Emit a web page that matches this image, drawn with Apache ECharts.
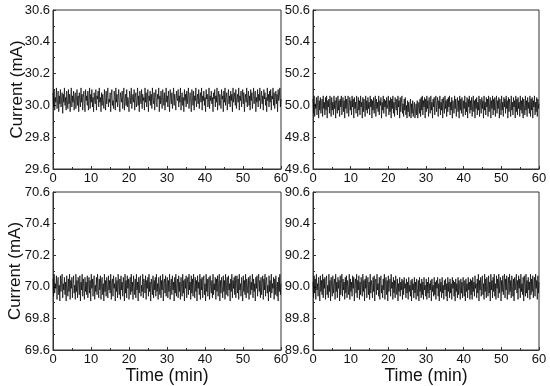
<!DOCTYPE html>
<html><head><meta charset="utf-8">
<script src="https://cdn.jsdelivr.net/npm/echarts@6/dist/echarts.min.js"></script>
<style>html,body{margin:0;padding:0;background:#fff}#c{width:550px;height:386px}</style>
</head><body><div id="c"></div>
<script>
const xTicks = [0,10,20,30,40,50,60];
const yRanges = [[29.6,30.6],[49.6,50.6],[69.6,70.6],[89.6,90.6]];
const yName = 'Current (mA)';
const xName = 'Time (min)';
const current30 = [30.08,29.99,30.10,29.97,30.05,30.02,30.11,29.98,30.03,30.09,29.96,30.06,30.01,30.10,29.99,30.04,30.08,29.95,30.07,30.02,
30.11,30.00,30.05,29.97,30.09,30.03,29.98,30.10,30.01,30.07,29.96,30.04,30.11,29.99,30.06,30.02,30.09,29.97,30.05,30.08,
29.98,30.03,30.10,30.00,30.06,29.96,30.08,30.04,29.99,30.11,30.02,30.07,29.97,30.05,30.09,30.01,29.96,30.10,30.03,30.06,
30.00,30.09,29.97,30.04,30.11,29.98,30.07,30.02,30.10,29.99,30.05,29.96,30.08,30.03,30.01,30.10,29.97,30.06,30.04,30.09,
29.99,30.11,30.02,30.05,29.96,30.08,30.00,30.07,30.03,29.98,30.10,30.04,29.97,30.09,30.01,30.06,30.11,29.99,30.04,30.02,
30.08,29.96,30.06,30.10,30.00,30.03,29.98,30.09,30.05,29.97,30.11,30.02,30.07,29.99,30.04,30.10,30.01,29.96,30.08,30.05,
30.02,30.09,29.98,30.06,30.11,29.97,30.04,30.07,30.00,30.10,29.99,30.05,30.03,29.96,30.09,30.06,30.01,30.11,29.98,30.04,
30.07,30.02,30.10,29.97,30.05,30.08,29.99,30.03,30.11,30.00,30.06,29.96,30.09,30.04,30.01,30.10,29.98,30.07,30.03,30.05,
29.97,30.11,30.02,30.08,29.99,30.04,30.10,29.96,30.06,30.03,30.09,30.00,30.07,29.98,30.11,30.04,30.01,30.08,29.97,30.05,
30.10,30.02,29.99,30.07,30.04,30.11,29.96,30.06,30.01,30.09,30.03,29.98,30.10,30.05,30.00,30.08,29.97,30.04,30.11,30.02,
30.06,29.99,30.09,30.03,29.96,30.10,30.05,30.01,30.08,29.98,30.04,30.11,30.00,30.07,30.02,29.97,30.09,30.05,30.03,30.10,
29.99,30.06,30.02,30.11,29.97,30.04,30.08,30.00,30.05,29.96,30.10,30.03,30.07,29.99,30.09,30.01,30.06,30.11,29.98,30.04,
30.08,30.02,29.96,30.10,30.05,30.00,30.09,29.97,30.06,30.03,30.11,29.99,30.04,30.07,30.01,30.10,29.98,30.05,30.08,30.02,
30.11,29.97,30.06,30.03,30.09,30.00,30.05,29.96,30.10,30.04,30.07,29.99,30.02,30.11,29.98,30.06,30.03,30.09,30.01,30.05,
29.96,30.08,30.04,30.10,29.99,30.06,30.02,30.11,29.97,30.05,30.09,30.00,30.07,30.03,29.98,30.10,30.04,30.06,29.96,30.09,
30.02,30.11,30.00,30.05,30.08,29.97,30.04,30.10,30.01,30.06,29.99,30.09,30.03,30.07,29.96,30.11,30.02,30.05,30.08,30.00,
30.10,29.98,30.04,30.07,30.02,30.11,29.97,30.06,30.03,30.09,29.99,30.05,30.10,30.01,30.08,29.96,30.04,30.07,30.02,30.11,
29.99,30.05,30.09,30.00,30.06,29.97,30.10,30.03,30.08,29.98,30.04,30.11,30.01,30.06,30.09,29.96,30.05,30.02,30.10,29.99,
30.07,30.03,30.11,29.98,30.05,30.09,30.01,30.06,29.97,30.10,30.04,30.08,30.00,30.05,29.96,30.11,30.03,30.07,29.99,30.09,
30.02,30.10,29.97,30.06,30.04,30.11,30.00,30.08,29.98,30.05,30.09,30.01,30.07,29.96,30.10,30.03,30.06,30.11,29.99,30.04];
const current50 = [50.04,49.95,50.06,49.93,50.01,49.98,50.05,49.94,50.02,50.06,49.92,50.03,49.97,50.05,49.95,50.00,50.04,49.93,50.06,49.98,
50.02,49.94,50.05,49.97,50.06,49.92,50.03,49.99,50.04,49.95,50.06,50.00,49.93,50.05,49.97,50.02,49.94,50.06,49.98,50.03,
49.92,50.05,50.00,49.95,50.06,49.97,50.03,49.93,50.04,49.99,50.06,49.94,50.01,50.05,49.96,50.03,49.92,50.06,49.98,50.04,
49.95,50.02,50.06,49.93,50.00,50.05,49.97,50.03,49.94,50.06,49.99,50.04,49.92,50.05,49.98,50.02,49.95,50.06,50.00,49.93,
50.05,49.97,50.03,49.94,50.06,49.99,50.02,49.92,50.05,49.96,50.04,50.00,49.93,50.06,49.97,50.03,49.95,50.05,49.98,50.02,
49.94,50.06,49.99,50.04,49.92,50.03,49.97,50.05,49.95,50.01,50.06,49.93,50.04,49.98,50.02,49.96,50.06,49.94,50.03,50.00,
50.05,49.92,50.02,49.97,50.06,49.95,50.04,49.99,50.03,49.93,50.05,49.98,50.01,50.06,49.94,50.03,49.96,50.05,49.92,50.04,
49.98,50.06,49.95,50.02,49.93,50.05,50.00,49.97,50.04,49.94,50.06,49.99,50.03,49.92,50.05,49.96,50.02,50.06,49.95,50.01,
49.93,50.04,49.97,50.05,49.94,50.00,49.92,50.03,49.96,50.02,49.93,49.99,50.04,49.92,50.01,49.95,50.03,49.93,49.98,50.02,
49.92,49.97,50.01,49.94,50.03,49.92,49.99,50.02,49.95,50.04,49.93,50.05,49.97,50.06,49.94,50.03,49.99,50.05,49.92,50.04,
49.96,50.06,49.98,50.03,49.93,50.05,50.00,49.95,50.06,49.97,50.02,49.92,50.04,49.99,50.05,49.94,50.03,50.06,49.96,50.01,
50.05,49.93,50.03,49.98,50.06,49.94,50.02,49.97,50.04,49.92,50.05,50.00,49.95,50.06,49.98,50.03,49.93,50.04,49.96,50.05,
49.99,50.06,49.94,50.02,49.97,50.05,49.92,50.03,50.00,49.95,50.06,49.98,50.04,49.93,50.01,50.05,49.96,50.03,49.92,50.06,
49.97,50.04,49.95,50.05,50.00,49.93,50.03,49.98,50.06,49.94,50.02,49.96,50.05,49.92,50.04,49.99,50.06,49.95,50.03,49.97,
50.05,49.93,50.01,50.06,49.96,50.03,49.92,50.04,49.98,50.05,49.94,50.02,49.97,50.06,49.93,50.04,50.00,49.95,50.05,49.98,
50.03,49.92,50.06,49.97,50.02,49.94,50.05,49.99,50.04,49.93,50.06,49.96,50.01,50.05,49.92,50.03,49.98,50.06,49.94,50.04,
49.97,50.05,49.93,50.02,50.06,49.95,50.03,49.98,50.05,49.92,50.04,50.00,49.94,50.06,49.97,50.02,49.93,50.05,49.99,50.04,
49.95,50.06,49.98,50.03,49.92,50.05,49.96,50.04,50.00,49.93,50.06,49.97,50.02,49.94,50.05,49.99,50.03,49.92,50.06,49.96,
50.04,49.94,50.05,49.98,50.02,49.93,50.06,49.97,50.03,49.95,50.05,49.92,50.04,50.00,49.94,50.06,49.97,50.03,49.93,50.05,
49.98,50.02,49.95,50.06,49.93,50.04,49.97,50.05,49.92,50.03,49.99,50.06,49.94,50.02,49.96,50.05,49.93,50.04,49.98,50.01];
const current70 = [70.05,69.94,70.08,69.96,70.02,69.99,70.07,69.92,70.03,70.06,69.95,70.01,69.91,70.07,69.97,70.04,70.08,69.93,70.02,69.98,
70.06,69.95,70.03,69.91,70.07,70.00,69.94,70.05,69.97,70.08,69.92,70.04,69.99,70.06,69.93,70.02,70.07,69.96,70.01,69.92,
70.08,69.97,70.04,69.93,70.06,70.01,69.95,70.07,69.91,70.03,69.98,70.08,69.94,70.05,70.00,69.92,70.06,69.97,70.03,69.95,
70.07,69.93,70.02,70.06,69.96,70.04,69.91,70.08,69.99,70.05,69.94,70.03,70.07,69.92,70.01,69.97,70.06,69.95,70.08,70.00,
69.93,70.05,69.98,70.07,69.92,70.03,70.06,69.95,70.02,69.91,70.08,69.97,70.04,69.94,70.06,70.01,69.93,70.07,69.98,70.04,
69.96,70.08,69.92,70.03,70.05,69.94,70.07,69.99,70.02,69.91,70.06,69.97,70.04,69.93,70.08,70.00,69.95,70.05,69.92,70.07,
69.98,70.03,69.94,70.06,70.01,69.91,70.08,69.96,70.04,69.93,70.07,69.99,70.05,69.92,70.02,70.06,69.95,70.08,69.97,70.03,
69.92,70.07,70.00,69.95,70.05,69.93,70.08,69.98,70.03,69.91,70.06,69.96,70.04,70.07,69.94,70.01,69.97,70.08,69.93,70.05,
70.02,69.96,70.07,69.92,70.04,69.99,70.06,69.94,70.08,69.97,70.03,69.91,70.05,70.01,69.95,70.07,69.93,70.04,69.98,70.06,
69.94,70.08,69.97,70.02,69.92,70.06,70.00,69.95,70.07,69.93,70.04,69.98,70.08,69.91,70.03,70.05,69.96,70.07,69.94,70.02,
70.06,69.93,70.04,69.97,70.08,69.92,70.01,70.05,69.95,70.07,69.98,70.03,69.91,70.06,69.96,70.08,69.94,70.02,70.05,69.93,
70.07,69.97,70.03,69.92,70.06,70.00,69.94,70.08,69.96,70.04,69.91,70.05,69.99,70.07,69.93,70.02,70.06,69.95,70.08,69.98,
70.03,69.92,70.07,69.96,70.05,69.94,70.08,70.01,69.93,70.06,69.97,70.04,69.91,70.07,69.99,70.03,69.95,70.08,69.92,70.05,
69.98,70.06,69.93,70.04,70.07,69.95,70.02,69.91,70.08,69.97,70.05,69.94,70.03,70.06,69.92,70.07,70.00,69.96,70.04,69.93,
70.08,69.95,70.02,69.98,70.06,69.92,70.05,69.97,70.07,69.94,70.03,70.08,69.91,70.04,69.96,70.06,70.01,69.93,70.07,69.97,
70.04,69.92,70.08,69.95,70.03,70.06,69.94,70.07,69.98,70.02,69.91,70.05,69.97,70.08,69.93,70.04,69.99,70.06,69.95,70.07,
69.93,70.03,70.07,69.96,70.05,69.92,70.08,69.98,70.02,69.94,70.06,70.00,69.91,70.07,69.97,70.04,69.95,70.08,69.93,70.05,
70.01,69.96,70.06,69.92,70.04,70.07,69.95,70.03,69.98,70.08,69.93,70.05,69.97,70.02,69.91,70.06,69.99,70.07,69.94,70.03,
70.08,69.97,70.04,69.93,70.06,69.95,70.02,70.07,69.92,70.05,69.98,70.08,69.94,70.03,70.06,69.96,70.01,69.91,70.07,69.97,
70.04,69.93,70.08,69.96,70.02,69.99,70.06,69.92,70.05,69.95,70.07,70.00,69.94,70.03,69.91,70.06,69.97,70.08,69.95,70.02];
const current90 = [90.03,89.93,90.07,89.96,90.05,89.92,90.08,89.98,90.02,89.94,90.06,90.00,89.91,90.07,89.97,90.04,89.95,90.08,89.93,90.05,
89.99,90.06,89.92,90.03,90.07,89.95,90.01,89.93,90.08,89.97,90.04,89.91,90.06,90.00,89.94,90.07,89.96,90.02,90.05,89.92,
90.08,89.97,90.03,89.93,90.06,89.99,90.04,89.91,90.07,89.95,90.02,90.08,89.94,90.05,89.98,90.03,89.92,90.06,89.96,90.07,
89.93,90.04,90.00,89.95,90.08,89.92,90.05,89.97,90.03,89.94,90.07,89.99,90.06,89.91,90.02,90.05,89.96,90.08,89.93,90.04,
89.98,90.07,89.92,90.03,89.95,90.06,90.01,89.94,90.08,89.97,90.04,89.91,90.05,89.99,90.07,89.93,90.02,90.06,89.95,90.03,
89.92,90.08,89.96,90.04,90.00,89.93,90.06,89.97,90.07,89.91,90.03,90.05,89.95,90.08,89.98,90.02,89.94,90.06,89.92,90.04,
90.07,89.96,90.01,89.93,90.05,89.98,90.08,89.92,90.03,90.06,89.95,90.04,89.91,90.07,89.97,90.02,90.05,89.94,90.08,89.99,
90.03,89.92,90.06,89.96,90.04,89.93,90.07,90.00,89.95,90.05,89.91,90.02,89.97,90.06,89.94,90.03,89.98,90.05,89.92,90.04,
89.95,90.06,89.99,90.02,89.93,90.05,89.96,90.03,89.92,90.06,89.97,90.01,89.94,90.04,89.91,90.05,89.98,90.02,89.93,90.06,
89.96,90.03,89.92,90.05,89.99,89.94,90.04,89.91,90.06,89.97,90.02,89.93,90.05,89.95,90.03,89.92,90.06,89.98,90.01,89.94,
90.05,89.92,90.03,89.96,90.06,89.93,90.02,89.98,90.04,89.91,90.05,89.97,90.01,89.94,90.06,89.95,90.03,89.92,90.04,89.99,
90.06,89.94,90.02,89.91,90.05,89.97,90.03,89.93,90.06,89.96,90.01,89.92,90.04,89.98,90.05,89.94,90.02,89.91,90.06,89.97,
90.03,89.93,90.05,89.96,90.02,89.92,90.06,89.99,90.04,89.94,90.03,89.91,90.05,89.97,90.02,89.93,90.06,89.95,90.04,89.98,
89.92,90.05,89.96,90.03,89.93,90.06,90.00,89.94,90.04,89.91,90.05,89.97,90.02,89.93,90.06,89.98,90.03,89.92,90.05,89.95,
90.04,89.92,90.06,89.97,90.03,89.94,90.07,89.99,90.02,89.93,90.05,89.96,90.08,89.91,90.04,89.98,90.06,89.94,90.03,90.07,
89.95,90.02,89.92,90.08,89.97,90.05,89.93,90.06,90.00,89.94,90.07,89.96,90.03,89.91,90.08,89.98,90.04,89.93,90.06,89.97,
90.08,89.94,90.02,89.92,90.07,89.99,90.05,89.93,90.08,89.96,90.03,90.06,89.91,90.04,89.97,90.07,89.95,90.02,90.08,89.93,
90.05,89.98,90.07,89.92,90.03,90.06,89.95,90.08,89.97,90.04,89.93,90.07,90.00,89.94,90.05,89.91,90.06,89.98,90.03,90.08,
89.96,90.04,89.92,90.07,89.99,90.05,89.93,90.08,89.97,90.02,89.95,90.06,89.91,90.07,90.01,89.94,90.08,89.96,90.04,89.93,
90.06,89.98,90.03,89.92,90.08,89.95,90.05,89.97,90.07,89.93,90.02,90.06,89.94,90.08,89.99,90.04,89.92,90.07,89.96,90.03];
const panels = [current30, current50, current70, current90];

const FONT = 'Liberation Sans, Arial, sans-serif';
const gridPos = [
  {left:53, top:10, width:228, height:159},
  {left:313, top:10, width:226, height:159},
  {left:53, top:192, width:228, height:160},
  {left:313, top:192, width:226, height:160}
];
const yNameGaps = [27, 0, 29, 0];
const grids = gridPos.map(g => Object.assign({show:true, borderColor:'#333', borderWidth:1, backgroundColor:'transparent'}, g));
const xAxes = gridPos.map((g,i) => ({
  type:'value', gridIndex:i, min:xTicks[0], max:xTicks[xTicks.length-1], interval:10,
  axisLine:{show:true, lineStyle:{color:'#333', width:1}},
  axisTick:{show:true, inside:true, length:3, lineStyle:{color:'#333'}},
  minorTick:{show:true, splitNumber:2, length:2, lineStyle:{color:'#333'}},
  splitLine:{show:false},
  axisLabel:{color:'#111', fontSize:13, fontFamily:FONT, margin:3},
  name: i>=2 ? xName : '', nameLocation:'middle', nameGap:17, nameMoveOverlap:false,
  nameTextStyle:{color:'#111', fontSize:17.5, fontFamily:FONT}
}));
const yAxes = gridPos.map((g,i) => ({
  type:'value', gridIndex:i, min:yRanges[i][0], max:yRanges[i][1], interval:0.2,
  axisLine:{show:true, lineStyle:{color:'#333', width:1}},
  axisTick:{show:true, inside:true, length:3, lineStyle:{color:'#333'}},
  minorTick:{show:true, splitNumber:2, length:2, lineStyle:{color:'#333'}},
  splitLine:{show:false},
  axisLabel:{color:'#111', fontSize:13, fontFamily:FONT, margin:3, formatter:v=>v.toFixed(1)},
  name: (i%2===0) ? yName : '', nameLocation:'middle', nameGap:yNameGaps[i], nameMoveOverlap:false,
  nameTextStyle:{color:'#111', fontSize:17, fontFamily:FONT}
}));
const series = panels.map((arr,i) => ({
  type:'line', xAxisIndex:i, yAxisIndex:i, showSymbol:false, symbol:'none',
  lineStyle:{color:'#000', width:0.7}, animation:false,
  data: arr.map((v,k) => [k*60/(arr.length-1), v])
}));
const chart = echarts.init(document.getElementById('c'), null, {renderer:'canvas'});
chart.setOption({animation:false, backgroundColor:'#fff', grid:grids, xAxis:xAxes, yAxis:yAxes, series:series});
</script></body></html>
